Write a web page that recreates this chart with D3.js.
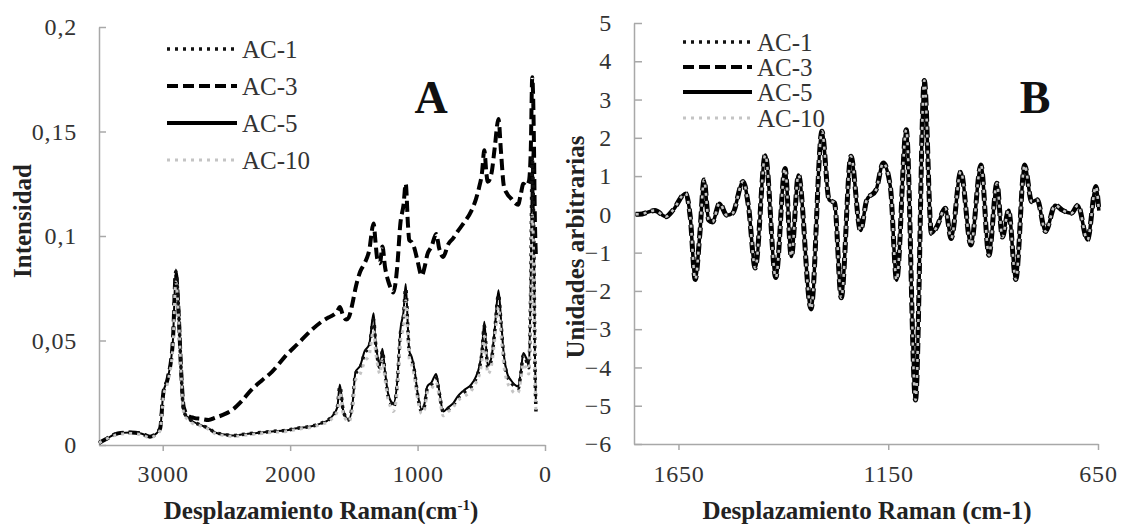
<!DOCTYPE html>
<html>
<head>
<meta charset="utf-8">
<script src="https://cdn.jsdelivr.net/npm/d3@7"></script>
<style>
  body { margin: 0; background: #fff; }
  text { font-family: "Liberation Serif", "Times New Roman", serif; }
</style>
</head>
<body>
<svg id="chart" width="1125" height="524"></svg>
<script>
// ---- data: panel A (Raman spectra) ----
var ramanShift = [3500, 3440, 3380, 3330, 3250, 3170, 3100, 3050, 3020, 2995, 2960, 2920, 2897, 2875, 2855, 2835, 2800, 2756, 2700, 2640,
    2590, 2506, 2450, 2380, 2310, 2220, 2143, 2030, 1947, 1832, 1753, 1700, 1667, 1630, 1610, 1585, 1560, 1540, 1510, 1487,
    1450, 1415, 1380, 1345, 1330, 1316, 1295, 1276, 1255, 1233, 1210, 1190, 1160, 1135, 1110, 1093, 1075, 1065, 1045, 1024,
    1000, 968, 945, 924, 890, 854, 830, 799, 760, 720, 688, 640, 578, 540, 518, 495, 476, 460, 449, 420,
    395, 365, 345, 323, 295, 267, 240, 211, 190, 170, 150, 127, 112, 100, 88, 80, 71];

var intAC1 = [0.001, 0.003, 0.005, 0.0058, 0.006, 0.0055, 0.004, 0.0055, 0.008, 0.025, 0.032, 0.05, 0.083, 0.064, 0.035, 0.016, 0.013, 0.011, 0.0095, 0.008,
    0.006, 0.005, 0.0045, 0.005, 0.0055, 0.006, 0.0065, 0.007, 0.008, 0.009, 0.0105, 0.012, 0.014, 0.018, 0.028, 0.017, 0.013, 0.012, 0.02, 0.034,
    0.037, 0.044, 0.047, 0.06, 0.049, 0.042, 0.037, 0.045, 0.034, 0.024, 0.02, 0.018, 0.029, 0.053, 0.062, 0.075, 0.054, 0.044, 0.041, 0.035,
    0.024, 0.016, 0.019, 0.027, 0.029, 0.032, 0.025, 0.016, 0.017, 0.019, 0.022, 0.025, 0.028, 0.032, 0.036, 0.044, 0.057, 0.044, 0.037, 0.041,
    0.054, 0.072, 0.058, 0.042, 0.033, 0.03, 0.028, 0.027, 0.034, 0.043, 0.041, 0.037, 0.075, 0.138, 0.1, 0.045, 0.016];

var intAC3 = [0.001, 0.003, 0.005, 0.0058, 0.006, 0.0055, 0.004, 0.0055, 0.008, 0.025, 0.032, 0.05, 0.082, 0.063, 0.035, 0.018, 0.014, 0.013, 0.0125, 0.012,
    0.013, 0.015, 0.017, 0.021, 0.026, 0.031, 0.035, 0.043, 0.048, 0.055, 0.059, 0.061, 0.062, 0.064, 0.066, 0.062, 0.06, 0.061, 0.068, 0.075,
    0.083, 0.087, 0.093, 0.106, 0.097, 0.089, 0.087, 0.095, 0.085, 0.079, 0.075, 0.073, 0.085, 0.106, 0.115, 0.125, 0.105, 0.098, 0.097, 0.094,
    0.088, 0.081, 0.085, 0.091, 0.095, 0.101, 0.094, 0.09, 0.096, 0.099, 0.102, 0.106, 0.112, 0.118, 0.123, 0.13, 0.141, 0.13, 0.126, 0.13,
    0.142, 0.156, 0.14, 0.124, 0.12, 0.118, 0.116, 0.115, 0.12, 0.125, 0.124, 0.126, 0.14, 0.176, 0.15, 0.11, 0.09];

var intAC5 = [0.001, 0.003, 0.005, 0.0058, 0.006, 0.0055, 0.004, 0.0055, 0.008, 0.025, 0.032, 0.05, 0.084, 0.065, 0.035, 0.016, 0.013, 0.011, 0.0095, 0.008,
    0.006, 0.005, 0.0045, 0.005, 0.0055, 0.006, 0.0065, 0.007, 0.008, 0.009, 0.0105, 0.012, 0.014, 0.018, 0.029, 0.017, 0.013, 0.012, 0.02, 0.035,
    0.038, 0.045, 0.048, 0.063, 0.05, 0.043, 0.038, 0.046, 0.035, 0.025, 0.021, 0.02, 0.03, 0.055, 0.064, 0.077, 0.055, 0.045, 0.042, 0.036,
    0.025, 0.017, 0.02, 0.028, 0.03, 0.034, 0.026, 0.016, 0.018, 0.02, 0.023, 0.026, 0.029, 0.033, 0.037, 0.045, 0.059, 0.045, 0.038, 0.042,
    0.055, 0.074, 0.06, 0.043, 0.034, 0.031, 0.029, 0.028, 0.035, 0.044, 0.042, 0.038, 0.08, 0.142, 0.11, 0.05, 0.02];

var intAC10 = [0.001, 0.003, 0.0045, 0.0052, 0.0055, 0.005, 0.0035, 0.005, 0.007, 0.023, 0.03, 0.047, 0.078, 0.06, 0.033, 0.015, 0.012, 0.01, 0.009, 0.0075,
    0.0055, 0.0045, 0.004, 0.0045, 0.005, 0.0055, 0.006, 0.0065, 0.0075, 0.0085, 0.01, 0.011, 0.013, 0.016, 0.025, 0.015, 0.012, 0.011, 0.018, 0.031,
    0.034, 0.04, 0.043, 0.055, 0.045, 0.039, 0.034, 0.041, 0.031, 0.022, 0.018, 0.016, 0.026, 0.049, 0.057, 0.069, 0.05, 0.041, 0.038, 0.032,
    0.022, 0.015, 0.017, 0.025, 0.027, 0.03, 0.023, 0.014, 0.016, 0.018, 0.021, 0.023, 0.026, 0.03, 0.033, 0.04, 0.052, 0.04, 0.034, 0.038,
    0.05, 0.066, 0.053, 0.038, 0.03, 0.027, 0.025, 0.025, 0.031, 0.039, 0.037, 0.034, 0.068, 0.11, 0.085, 0.04, 0.016];

// ---- data: panel B (second derivative, all four samples overlap) ----
var shiftB = [1752, 1744, 1706, 1680, 1663, 1633, 1622, 1610, 1599, 1589, 1578, 1569, 1552, 1535, 1521, 1496, 1483, 1467, 1443, 1418,
    1396, 1381, 1364, 1334, 1308, 1291, 1278, 1262, 1239, 1216, 1201, 1179, 1162, 1145, 1130, 1107, 1085, 1064, 1047, 1034,
    1014, 1000, 977, 953, 929, 910, 891, 878, 863, 846, 825, 808, 795, 775, 752, 735, 713, 698, 675, 655, 648];

var derivB = [0, 0, 0.1, -0.06, 0.11, 0.55, -0.06, -1.7, -0.5, 0.9, -0.15, -0.2, 0.29, -0.02, 0.03, 0.86, 0.2, -1.4, 1.55, -1.65,
    1.2, -1.1, 1.03, -2.47, 2.17, 0.38, 0.3, -2.18, 1.52, -0.42, 0.38, 0.64, 1.34, 0.73, -1.72, 2.21, -4.85, 3.5, -0.5, -0.32,
    0.16, -0.63, 1.12, -0.8, 1.29, -1.07, 0.81, -0.59, 0.11, -1.7, 1.29, 0.33, 0.38, -0.45, 0.24, 0.11, 0.03, 0.24, -0.67, 0.73, 0.1];

var seriesNames = ["AC-1", "AC-3", "AC-5", "AC-10"];
var ticksA_x = [3000, 2000, 1000, 0];
var ticksA_y = [0, 0.05, 0.1, 0.15, 0.2];
var ticksB_x = [1650, 1150, 650];
var ticksB_y = [-6, -5, -4, -3, -2, -1, 0, 1, 2, 3, 4, 5];

// line styles per series
var styles = {
    "AC-1": {stroke: "#111", width: 3.5, dash: "3,5"},
    "AC-3": {stroke: "#000", width: 4, dash: "11,5"},
    "AC-5": {stroke: "#000", width: 3, dash: null},
    "AC-10": {stroke: "#c4c4c4", width: 3, dash: "3,5"}
};

var svg = d3.select("#chart");
var axisColor = "#a8a8a8";

// comma decimal, like the original (0,05)
function commaFmt(d) {
    return String(d).replace(".", ",");
}

function styleAxis(g) {
    g.select(".domain").attr("stroke", axisColor).attr("stroke-width", 1.5);
    g.selectAll(".tick line").attr("stroke", axisColor).attr("stroke-width", 1.5);
    g.selectAll(".tick text")
        .attr("fill", "#333")
        .style("font-size", "24px")
        .style("letter-spacing", "0.8px")
        .style("font-family", "'Liberation Serif', serif");
}

function drawLine(g, xs, ys, x, y, st, widthOverride) {
    var pts = xs.map(function (d, i) { return [d, ys[i]]; });
    var line = d3.line()
        .x(function (d) { return x(d[0]); })
        .y(function (d) { return y(d[1]); })
        .curve(d3.curveMonotoneX);
    g.append("path")
        .datum(pts)
        .attr("fill", "none")
        .attr("stroke", st.stroke)
        .attr("stroke-width", widthOverride || st.width)
        .attr("stroke-dasharray", st.dash)
        .attr("d", line);
}

function drawLegend(x0, x1, rows) {
    var lg = svg.append("g");
    seriesNames.forEach(function (name, i) {
        var st = styles[name];
        lg.append("line")
            .attr("x1", x0).attr("x2", x1)
            .attr("y1", rows[i]).attr("y2", rows[i])
            .attr("stroke", st.stroke)
            .attr("stroke-width", name === "AC-5" ? 4 : st.width)
            .attr("stroke-dasharray", st.dash);
        lg.append("text")
            .attr("x", x1 + 5)
            .attr("y", rows[i])
            .attr("dy", "0.35em")
            .attr("fill", "#333")
            .style("font-size", "25px")
            .text(name);
    });
}

// ================= Panel A =================
var xA = d3.scaleLinear().domain([3500, 0]).range([99, 545]);
var yA = d3.scaleLinear().domain([0, 0.2]).range([445, 27]);

svg.append("g")
    .attr("transform", "translate(0,445)")
    .call(d3.axisBottom(xA).tickValues(ticksA_x).tickSize(6).tickSizeOuter(0).tickPadding(14).tickFormat(d3.format("d")))
    .call(styleAxis);

svg.append("g")
    .attr("transform", "translate(99,0)")
    .call(d3.axisLeft(yA).tickValues(ticksA_y).tickSize(-7).tickSizeOuter(0).tickPadding(22).tickFormat(commaFmt))
    .call(styleAxis);

var gA = svg.append("g");
drawLine(gA, ramanShift, intAC5, xA, yA, styles["AC-5"], 2);
drawLine(gA, ramanShift, intAC3, xA, yA, styles["AC-3"]);
drawLine(gA, ramanShift, intAC1, xA, yA, styles["AC-1"]);
drawLine(gA, ramanShift, intAC10, xA, yA, styles["AC-10"]);

drawLegend(167, 237, [49, 86, 123, 160]);

svg.append("text")
    .attr("x", 431).attr("y", 113)
    .attr("text-anchor", "middle")
    .style("font-size", "46px").style("font-weight", "bold")
    .attr("fill", "#111")
    .text("A");

var titleA = svg.append("text")
    .attr("x", 321).attr("y", 519)
    .attr("text-anchor", "middle")
    .style("font-size", "25px").style("font-weight", "bold")
    .attr("fill", "#222");
titleA.append("tspan").text("Desplazamiento Raman(cm");
titleA.append("tspan").attr("dy", -9).style("font-size", "15px").text("-1");
titleA.append("tspan").attr("dy", 9).text(")");

svg.append("text")
    .attr("transform", "translate(31,221) rotate(-90)")
    .attr("text-anchor", "middle")
    .style("font-size", "25px").style("font-weight", "bold")
    .attr("fill", "#222")
    .text("Intensidad");

// ================= Panel B =================
var xB = d3.scaleLinear().domain([1756, 650]).range([634, 1098]);
var yB = d3.scaleLinear().domain([-6, 5]).range([444, 23]);

svg.append("g")
    .attr("transform", "translate(0,444)")
    .call(d3.axisBottom(xB).tickValues(ticksB_x).tickSize(6).tickSizeOuter(0).tickPadding(15).tickFormat(d3.format("d")))
    .call(styleAxis);

svg.append("g")
    .attr("transform", "translate(634,0)")
    .call(d3.axisLeft(yB).tickValues(ticksB_y).tickSize(-8).tickSizeOuter(0).tickPadding(22).tickFormat(d3.format("d")))
    .call(styleAxis);

var gB = svg.append("g");
drawLine(gB, shiftB, derivB, xB, yB, styles["AC-5"], 3.5);
drawLine(gB, shiftB, derivB, xB, yB, styles["AC-3"], 5);
drawLine(gB, shiftB, derivB, xB, yB, styles["AC-1"], 4);
drawLine(gB, shiftB, derivB, xB, yB, styles["AC-10"], 2.5);

drawLegend(683, 752, [42, 67, 92, 118]);

svg.append("text")
    .attr("x", 1035).attr("y", 113)
    .attr("text-anchor", "middle")
    .style("font-size", "46px").style("font-weight", "bold")
    .attr("fill", "#111")
    .text("B");

svg.append("text")
    .attr("x", 867).attr("y", 519)
    .attr("text-anchor", "middle")
    .style("font-size", "25px").style("font-weight", "bold")
    .attr("fill", "#222")
    .text("Desplazamiento Raman (cm-1)");

svg.append("text")
    .attr("transform", "translate(584,247) rotate(-90)")
    .attr("text-anchor", "middle")
    .style("font-size", "25px").style("font-weight", "bold")
    .attr("fill", "#222")
    .text("Unidades arbitrarias");
</script>
</body>
</html>
